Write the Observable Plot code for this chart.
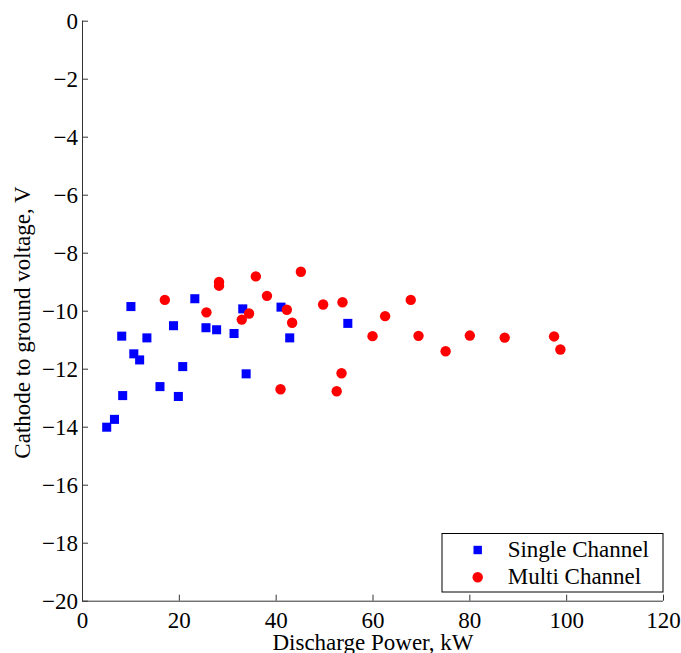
<!DOCTYPE html>
<html>
<head>
<meta charset="utf-8">
<script src="https://cdn.jsdelivr.net/npm/d3@7"></script>
<script src="https://cdn.jsdelivr.net/npm/@observablehq/plot@0.6"></script>
<style>
  html, body { margin: 0; padding: 0; background: #fff; }
  #wrap { position: relative; width: 681px; height: 653px; overflow: hidden; }
  #wrap > svg { position: absolute; left: 0; top: 0; }
  #wrap text { font-family: 'Liberation Serif', 'Times New Roman', serif; }
</style>
</head>
<body>
<div id="wrap"></div>
<script>
// ---- data ----
const singleX = [5.0, 6.6, 8.1, 8.3, 10.0, 10.6, 11.8, 13.3, 16.0, 18.8, 19.8, 20.7, 23.2, 25.5, 27.7, 31.3, 33.1, 33.8, 41.0, 42.8, 54.8];
const singleY = [-14.0, -13.73, -10.86, -12.91, -9.84, -11.47, -11.68, -10.92, -12.6, -10.5, -12.94, -11.91, -9.57, -10.57, -10.64, -10.77, -9.92, -12.16, -9.86, -10.92, -10.42];

const multiX = [17.0, 25.6, 28.2, 28.2, 32.9, 34.4, 35.8, 38.1, 40.9, 42.2, 43.3, 45.1, 49.7, 52.5, 53.5, 53.7, 59.9, 62.5, 67.8, 69.4, 75.0, 80.0, 87.2, 97.4, 98.7];
const multiY = [-9.61, -10.04, -8.99, -9.12, -10.29, -10.08, -8.8, -9.47, -12.69, -9.95, -10.4, -8.64, -9.77, -12.76, -12.14, -9.69, -10.86, -10.17, -9.61, -10.85, -11.38, -10.84, -10.91, -10.87, -11.32];

const seriesNames = ["Single Channel", "Multi Channel"];
const seriesColors = ["#0000ff", "#ff0000"];
const xTicks = [0, 20, 40, 60, 80, 100, 120];
const yTicks = [0, -2, -4, -6, -8, -10, -12, -14, -16, -18, -20];
const xDomain = [0, 120];
const yDomain = [-20, 0];
const xLabel = "Discharge Power, kW";
const yLabel = "Cathode to ground voltage, V";

// ---- build tables ----
const single = singleX.map((x, i) => ({x, y: singleY[i]}));
const multi = multiX.map((x, i) => ({x, y: multiY[i]}));

const FONT = "'Liberation Serif', 'Times New Roman', serif";
const axisColor = "#333";

const chart = Plot.plot({
  width: 681,
  height: 653,
  marginLeft: 82,
  marginRight: 18,
  marginTop: 20.7,
  marginBottom: 52.3,
  style: {fontFamily: FONT, fontSize: "23px", color: "#000", background: "#fff", overflow: "visible"},
  x: {domain: xDomain},
  y: {domain: yDomain},
  marks: [
    Plot.ruleY([yDomain[0]], {stroke: axisColor, strokeWidth: 1}),
    Plot.ruleX([xDomain[0]], {stroke: axisColor, strokeWidth: 1}),
    Plot.axisX({ticks: xTicks, tickSize: -6, tickPadding: 16.3, label: null, stroke: axisColor, fill: "#000", fontSize: 23, fontFamily: FONT, fontVariant: "normal", tickFormat: d3.format("")}),
    Plot.axisY({ticks: yTicks, tickSize: -6, tickPadding: 10.4, label: null, stroke: axisColor, fill: "#000", fontSize: 23, fontFamily: FONT, fontVariant: "normal", tickFormat: (d) => (d < 0 ? "\u2212" + Math.abs(d) : String(d))}),
    Plot.dot(single, {x: "x", y: "y", symbol: "square", r: 5.1, fill: seriesColors[0], stroke: "none"}),
    Plot.dot(multi, {x: "x", y: "y", symbol: "circle", r: 5.2, fill: seriesColors[1], stroke: "none"}),
    Plot.text([xLabel], {text: (d) => d, frameAnchor: "bottom", lineAnchor: "middle", textAnchor: "middle", dy: 41.2, fontSize: 23, fontFamily: FONT, fill: "#000"}),
    Plot.text([yLabel], {text: (d) => d, frameAnchor: "left", lineAnchor: "middle", textAnchor: "middle", rotate: -90, dx: -59.4, dy: 11.3, fontSize: 23, fontFamily: FONT, fill: "#000"})
  ]
});
document.getElementById("wrap").appendChild(chart);

// ---- legend (overlay svg) ----
const leg = d3.select("#wrap").append("svg")
  .attr("width", 681).attr("height", 653)
  .style("position", "absolute").style("left", "0px").style("top", "0px")
  .style("pointer-events", "none");
const box = {x: 442, y: 533.5, w: 221, h: 58.5};
leg.append("rect")
  .attr("x", box.x).attr("y", box.y).attr("width", box.w).attr("height", box.h)
  .attr("fill", "#fff").attr("stroke", "#000").attr("stroke-width", 1);
const rows = [{my: 550, ty: 557.3}, {my: 577.3, ty: 584.3}];
seriesNames.forEach((name, i) => {
  if (i === 0) {
    leg.append("rect").attr("x", 477.7 - 4.2).attr("y", rows[i].my - 4.2).attr("width", 8.4).attr("height", 8.4).attr("fill", seriesColors[i]);
  } else {
    leg.append("circle").attr("cx", 477.7).attr("cy", rows[i].my).attr("r", 5.2).attr("fill", seriesColors[i]);
  }
  leg.append("text").attr("x", 507.7).attr("y", rows[i].ty)
    .style("font-family", FONT).style("font-size", "23px").attr("fill", "#000")
    .text(name);
});
</script>
</body>
</html>
